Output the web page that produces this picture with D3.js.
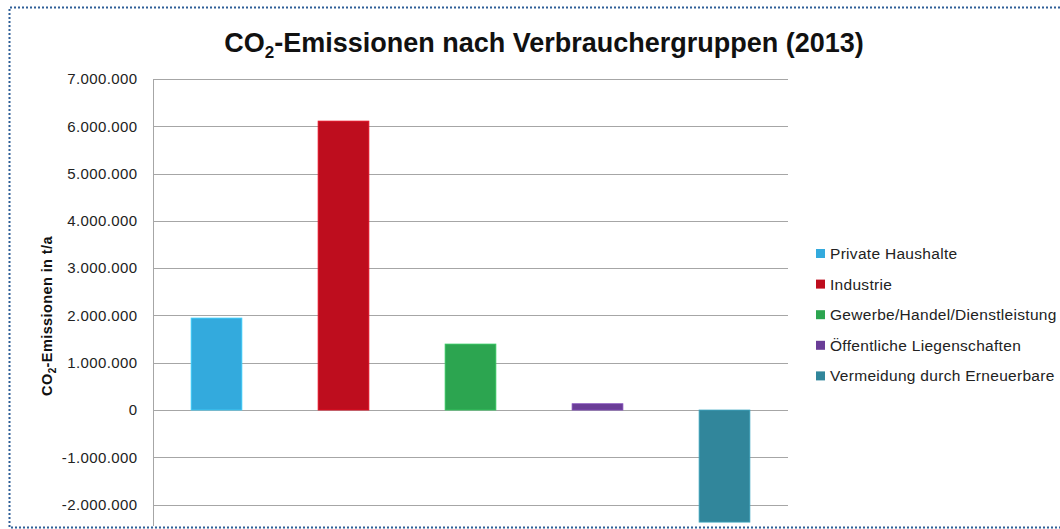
<!DOCTYPE html>
<html>
<head>
<meta charset="utf-8">
<script src="https://cdn.jsdelivr.net/npm/d3@7"></script>
<style>
  body { margin: 0; background: #fff; }
  svg { display: block; font-family: "Liberation Sans", Arial, sans-serif; }
</style>
</head>
<body>
<svg id="chart" width="1060" height="529"></svg>
<script>
// Daten
var categories = ["Private Haushalte", "Industrie", "Gewerbe/Handel/Dienstleistung", "Öffentliche Liegenschaften", "Vermeidung durch Erneuerbare"];
var values = [1945000, 6110000, 1395000, 133000, -2370000];
var colors = ["#33aadd", "#be0d1e", "#2ca550", "#6a3d97", "#31869b"];
var tickValues = [-2000000, -1000000, 0, 1000000, 2000000, 3000000, 4000000, 5000000, 6000000, 7000000];

var svg = d3.select("#chart"),
    width = +svg.attr("width"),
    height = +svg.attr("height");

// deutsches Zahlenformat
var de = d3.formatLocale({ decimal: ",", thousands: ".", grouping: [3], currency: ["", " €"], minus: "-" });
var fmt = de.format(",.0f");

// Rahmen (gepunktet, rechts offen)
svg.append("path")
  .attr("d", "M" + width + ",7.5H9.5V527.5H" + width)
  .attr("fill", "none")
  .attr("stroke", "#2f5f97")
  .attr("stroke-width", 2)
  .attr("stroke-dasharray", "2,2");

var plot = { left: 153, right: 788, top: 79 };

var x = d3.scaleBand()
  .domain(categories)
  .range([plot.left, plot.right])
  .paddingInner(0.6)
  .paddingOuter(0.3);

var y = d3.scaleLinear()
  .domain([-3000000, 7000000])
  .range([410 + 3 * 47.3, plot.top]);

svg.append("clipPath").attr("id", "clip")
  .append("rect").attr("x", 0).attr("y", 0).attr("width", width).attr("height", 526);

var g = svg.append("g").attr("clip-path", "url(#clip)");

// Gitterlinien
g.append("g")
  .selectAll("line")
  .data(tickValues)
  .enter().append("line")
  .attr("x1", plot.left).attr("x2", plot.right)
  .attr("y1", function(d) { return Math.round(y(d)) + 0.5; })
  .attr("y2", function(d) { return Math.round(y(d)) + 0.5; })
  .attr("stroke", "#a6a6a6")
  .attr("stroke-width", 1);

// y-Achse
var yAxis = d3.axisLeft(y).tickValues(tickValues).tickFormat(fmt).tickSize(0).tickPadding(16);
var ax = g.append("g")
  .attr("transform", "translate(" + (plot.left + 0.5) + ",0)")
  .call(yAxis);
ax.select(".domain").attr("stroke", "#a6a6a6").attr("d", "M0," + plot.top + "V" + 529);
ax.selectAll("text")
  .attr("font-size", 15)
  .attr("letter-spacing", 0.4)
  .attr("fill", "#222")
  .attr("font-family", "Liberation Sans, Arial, sans-serif");

// Balken
g.append("g")
  .selectAll("rect")
  .data(values)
  .enter().append("rect")
  .attr("x", function(d, i) { return x(categories[i]); })
  .attr("width", x.bandwidth())
  .attr("y", function(d) { return y(Math.max(0, d)); })
  .attr("height", function(d) { return Math.abs(y(d) - y(0)); })
  .attr("fill", function(d, i) { return colors[i]; })
  .attr("stroke", function(d, i) { return d3.color(colors[i]).brighter(0.6); })
  .attr("stroke-width", 0.8);

// Titel
var title = svg.append("text")
  .attr("x", 544).attr("y", 52)
  .attr("text-anchor", "middle")
  .attr("font-size", 27)
  .attr("font-weight", "bold")
  .attr("fill", "#111");
title.append("tspan").text("CO");
title.append("tspan").attr("font-size", 17).attr("dy", 6).text("2");
title.append("tspan").attr("dy", -6).text("-Emissionen nach Verbrauchergruppen (2013)");

// y-Achsentitel
var yt = svg.append("text")
  .attr("transform", "translate(52,316) rotate(-90)")
  .attr("text-anchor", "middle")
  .attr("font-size", 14.5)
  .attr("letter-spacing", 0.4)
  .attr("font-weight", "bold")
  .attr("fill", "#111");
yt.append("tspan").text("CO");
yt.append("tspan").attr("font-size", 10).attr("dy", 4).text("2");
yt.append("tspan").attr("dy", -4).text("-Emissionen in t/a");

// Legende
var legend = svg.append("g")
  .selectAll("g")
  .data(categories)
  .enter().append("g")
  .attr("transform", function(d, i) { return "translate(816," + (249 + i * 30.6) + ")"; });

legend.append("rect")
  .attr("width", 9).attr("height", 9)
  .attr("fill", function(d, i) { return colors[i]; });

legend.append("text")
  .attr("x", 14).attr("y", 10)
  .attr("font-size", 15.5)
  .attr("letter-spacing", 0.3)
  .attr("fill", "#222")
  .text(function(d) { return d; });
</script>
</body>
</html>
